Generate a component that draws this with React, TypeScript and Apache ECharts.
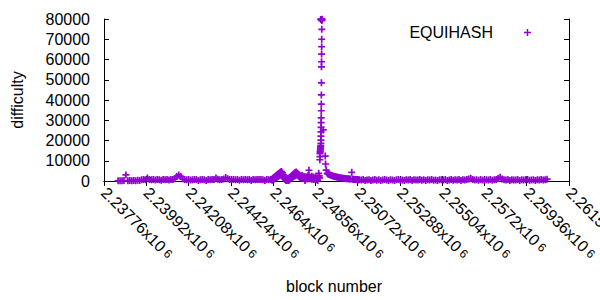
import React, { useEffect, useRef } from "react";
import * as echarts from "echarts";

const xTickMin = 2237760;
const xTickMax = 2261520;
const xTickStep = 2160;
const yTickMax = 80000;
const yTickStep = 10000;

const seriesName = "EQUIHASH";

// early baseline
const blocksA = [
  2238480, 2238580, 2238680, 2238780, 2238880, 2238980, 2239080, 2239180, 2239280, 2239380,
  2239480, 2239580, 2239680, 2239780, 2239880, 2239980, 2240080, 2240180, 2240280, 2240380,
  2240480, 2240580, 2240680, 2240780, 2240880, 2240980, 2241080, 2241180, 2241280, 2241380,
  2241480, 2241580, 2241680, 2241780, 2241880, 2241980, 2242080, 2242180, 2242280, 2242380,
  2242480, 2242580, 2242680, 2242780, 2242880, 2242980, 2243080, 2243180, 2243280, 2243380,
  2243480, 2243580, 2243680, 2243780, 2243880, 2243980, 2244080, 2244180, 2244280, 2244380,
  2244480, 2244580, 2244680, 2244780, 2244880, 2244980, 2245080, 2245180, 2245280, 2245380,
  2245480, 2245580, 2245680, 2245780, 2245880, 2245980, 2246080, 2246180, 2246280,
];
const difficultyA = [
  100, 150, 80, 200, 3000, 120, 250, 180, 300, 150,
  350, 200, 600, 700, 650, 1500, 800, 600, 700, 550,
  750, 600, 400, 700, 650, 800, 500, 700, 750, 1200,
  2200, 3000, 2200, 1100, 800, 600, 700, 500, 650, 800,
  700, 300, 600, 750, 650, 200, 700, 600, 800, 750,
  1500, 900, 600, 700, 1000, 1700, 1100, 800, 650, 700,
  600, 750, 400, 700, 650, 800, 600, 750, 300, 700,
  650, 800, 700, 750, 600, 200, 700, 650, 800,
];

// bumps before the spike (upper envelope)
const blocksB = [
  2246330, 2246380, 2246430, 2246480, 2246530, 2246580, 2246630, 2246680, 2246730, 2246780,
  2246830, 2246880, 2246930, 2246980, 2247030, 2247080, 2247130, 2247180, 2247230, 2247280,
  2247330, 2247380, 2247430, 2247480, 2247530, 2247580, 2247630, 2247680, 2247730, 2247780,
  2247830, 2247880, 2247930, 2247980, 2248030, 2248080, 2248130, 2248180, 2248230, 2248280,
  2248330, 2248380, 2248430, 2248480, 2248530, 2248580, 2248630, 2248680, 2248730, 2248780,
];
const difficultyB = [
  900, 1300, 1700, 2100, 2500, 2900, 3300, 3700, 4100, 4500,
  4700, 4000, 3000, 1800, 800, 300, 1200, 600, 1600, 1900,
  2400, 2900, 3300, 3800, 4200, 4500, 4000, 3400, 2900, 2500,
  2200, 2700, 1900, 2400, 300, 2100, 1700, 2600, 5300, 2000,
  1600, 2300, 1400, 2000, 1100, 1800, 900, 200, 3800, 1500,
];

// bumps before the spike (lower points)
const blocksB2 = [
  2246355, 2246405, 2246455, 2246505, 2246555, 2246605, 2246655, 2246705, 2246755, 2246805,
  2246855, 2246905, 2246955, 2247005, 2247055, 2247105, 2247155, 2247205, 2247255, 2247305,
  2247355, 2247405, 2247455, 2247505, 2247555, 2247605, 2247655, 2247705, 2247755, 2247805,
  2247855, 2247905, 2247955, 2248005, 2248055, 2248105, 2248155, 2248205, 2248255, 2248305,
  2248355, 2248405, 2248455, 2248505, 2248555, 2248605, 2248655, 2248705, 2248755,
];
const difficultyB2 = [
  400, 700, 1000, 1300, 1500, 1800, 2200, 2500, 2800, 3200,
  3000, 2200, 1500, 900, 400, 200, 600, 300, 900, 1200,
  1500, 1800, 2200, 2500, 2900, 3100, 2700, 2300, 1900, 1600,
  1400, 1800, 1200, 1500, 900, 1400, 1000, 1800, 1300, 1200,
  900, 1500, 800, 1300, 700, 1100, 500, 2000, 2500,
];

// the spike
const blocksC = [
  2248790, 2248795, 2248800, 2248805, 2248810, 2248815, 2248820, 2248825, 2248830, 2248835,
  2248840, 2248843, 2248846, 2248849, 2248852, 2248855, 2248858, 2248861, 2248864, 2248867,
  2248870, 2248873, 2248876, 2248879, 2248882, 2248885, 2248888, 2248891, 2248894, 2248897,
  2248830, 2248870,
];
const difficultyC = [
  10500, 12000, 13500, 14200, 14800, 15300, 15800, 16300, 16900, 17500,
  18600, 20200, 22200, 24300, 26500, 28800, 31200, 34700, 38000, 42500,
  48500, 56400, 58900, 62700, 66300, 70000, 74900, 79200, 79700, 79900,
  79800, 79800,
];

// decay after the spike
const blocksD = [
  2248962, 2249064, 2249080, 2249115, 2249166, 2249200, 2249250, 2249300, 2249350, 2249400,
  2249450, 2249500, 2249550, 2249600, 2249650, 2249700, 2249750, 2249800, 2249850, 2249900,
  2249950, 2250000, 2250050, 2250100, 2250150, 2250200, 2250250, 2250300, 2250350, 2250420,
  2250450, 2250500, 2250550, 2250600, 2250650, 2250700, 2250750,
];
const difficultyD = [
  25200, 12300, 8400, 5400, 3800, 3500, 3300, 3100, 2900, 2700,
  2500, 2350, 2200, 2050, 1950, 1850, 1750, 1650, 1550, 1450,
  1400, 1300, 1250, 1200, 1150, 1100, 1050, 1000, 950, 4300,
  900, 850, 800, 750, 700, 650, 600,
];

// late baseline
const blocksE = [
  2250800, 2250900, 2251000, 2251100, 2251200, 2251300, 2251400, 2251500, 2251600, 2251700,
  2251800, 2251900, 2252000, 2252100, 2252200, 2252300, 2252400, 2252500, 2252600, 2252700,
  2252800, 2252900, 2253000, 2253100, 2253200, 2253300, 2253400, 2253500, 2253600, 2253700,
  2253800, 2253900, 2254000, 2254100, 2254200, 2254300, 2254400, 2254500, 2254600, 2254700,
  2254800, 2254900, 2255000, 2255100, 2255200, 2255300, 2255400, 2255500, 2255600, 2255700,
  2255800, 2255900, 2256000, 2256100, 2256200, 2256300, 2256400, 2256500, 2256600, 2256700,
  2256800, 2256900, 2257000, 2257100, 2257200, 2257300, 2257400, 2257500, 2257600, 2257700,
  2257800, 2257900, 2258000, 2258100, 2258200, 2258300, 2258400, 2258500, 2258600, 2258700,
  2258800, 2258900, 2259000, 2259100, 2259200, 2259300, 2259400, 2259500, 2259600, 2259700,
  2259800, 2259900, 2260000, 2260100, 2260200, 2260300, 2260400,
];
const difficultyE = [
  600, 450, 700, 300, 550, 650, 200, 500, 700, 400,
  600, 250, 550, 700, 450, 300, 650, 500, 200, 600,
  700, 400, 550, 300, 650, 500, 700, 250, 600, 450,
  550, 700, 350, 600, 200, 650, 500, 700, 400, 550,
  300, 650, 600, 450, 700, 250, 550, 800, 400, 600,
  500, 700, 300, 650, 550, 800, 1000, 1300, 700, 450,
  600, 350, 700, 500, 250, 650, 550, 700, 400, 600,
  800, 1200, 1800, 1000, 600, 450, 700, 300, 650, 550,
  500, 700, 250, 600, 450, 650, 700, 350, 550, 600,
  300, 650, 500, 700, 450, 600, 900,
];

const blocks = [...blocksA, ...blocksB, ...blocksB2, ...blocksC, ...blocksD, ...blocksE];
const difficulty = [
  ...difficultyA, ...difficultyB, ...difficultyB2, ...difficultyC, ...difficultyD, ...difficultyE,
];

const PURPLE = "#9400d3";
const FONT = "Liberation Sans";
const PLUS = "path://M0,2.65H7V4.35H0Z M2.65,0H4.35V7H2.65Z";

export default function App() {
  const ref = useRef<HTMLDivElement>(null);
  useEffect(() => {
    if (!ref.current) return;
    const chart = echarts.init(ref.current, null, { renderer: "svg" });
    const data = blocks.map((b, i) => [b, difficulty[i]]);
    const fmtX = (v: number) => {
      const s = parseFloat((v / 1e6).toFixed(5)).toString();
      return `{a|${s}x10} {s|6}`;
    };
    const axisLine = { show: true, lineStyle: { color: "#000", width: 1 } };
    const tick = { show: true, inside: true, length: 5, lineStyle: { color: "#000", width: 1 } };
    chart.setOption({
      animation: false,
      grid: {
        left: 104,
        right: 31,
        top: 19,
        bottom: 119,
        containLabel: false,
        outerBoundsMode: "none",
      },
      xAxis: [
        {
          type: "value",
          min: xTickMin,
          max: xTickMax,
          interval: xTickStep,
          axisLine,
          axisTick: tick,
          splitLine: { show: false },
          axisLabel: {
            rotate: -45,
            margin: 9,
            formatter: fmtX,
            showMaxLabel: true,
            hideOverlap: false,
            rich: {
              a: { fontFamily: FONT, fontSize: 16, color: "#000" },
              s: { fontFamily: FONT, fontSize: 12, color: "#000" },
            },
          },
        },
        {
          type: "value",
          position: "top",
          min: xTickMin,
          max: xTickMax,
          interval: xTickStep,
          axisLine,
          axisTick: tick,
          splitLine: { show: false },
          axisLabel: { show: false },
        },
      ],
      yAxis: [
        {
          type: "value",
          min: 0,
          max: yTickMax,
          interval: yTickStep,
          axisLine,
          axisTick: tick,
          splitLine: { show: false },
          axisLabel: {
            margin: 14,
            fontFamily: FONT,
            fontSize: 16,
            color: "#000",
            formatter: (v: number) => String(v),
          },
        },
        {
          type: "value",
          position: "right",
          min: 0,
          max: yTickMax,
          interval: yTickStep,
          axisLine,
          axisTick: tick,
          splitLine: { show: false },
          axisLabel: { show: false },
        },
      ],
      series: [
        {
          name: seriesName,
          type: "scatter",
          xAxisIndex: 0,
          yAxisIndex: 0,
          symbol: PLUS,
          symbolSize: 7,
          itemStyle: { color: PURPLE, opacity: 1 },
          data,
          clip: true,
        },
      ],
      graphic: [
        {
          type: "text",
          x: 17,
          y: 100,
          rotation: Math.PI / 2,
          style: {
            text: "difficulty",
            fontFamily: FONT,
            fontSize: 16,
            fill: "#000",
            align: "center",
            verticalAlign: "middle",
          },
        },
        {
          type: "text",
          x: 334,
          y: 286,
          style: {
            text: "block number",
            fontFamily: FONT,
            fontSize: 16,
            fill: "#000",
            align: "center",
            verticalAlign: "middle",
          },
        },
        {
          type: "text",
          x: 493,
          y: 32,
          style: {
            text: seriesName,
            fontFamily: FONT,
            fontSize: 16,
            fill: "#000",
            align: "right",
            verticalAlign: "middle",
          },
        },
        {
          type: "line",
          shape: { x1: 524, y1: 32.5, x2: 531, y2: 32.5 },
          style: { stroke: PURPLE, lineWidth: 1.5 },
        },
        {
          type: "line",
          shape: { x1: 527.5, y1: 29, x2: 527.5, y2: 36 },
          style: { stroke: PURPLE, lineWidth: 1.5 },
        },
      ],
    });
    return () => chart.dispose();
  }, []);
  return (
    <div
      ref={ref}
      style={{ position: "fixed", left: 0, top: 0, width: 600, height: 300, background: "#fff" }}
    />
  );
}
